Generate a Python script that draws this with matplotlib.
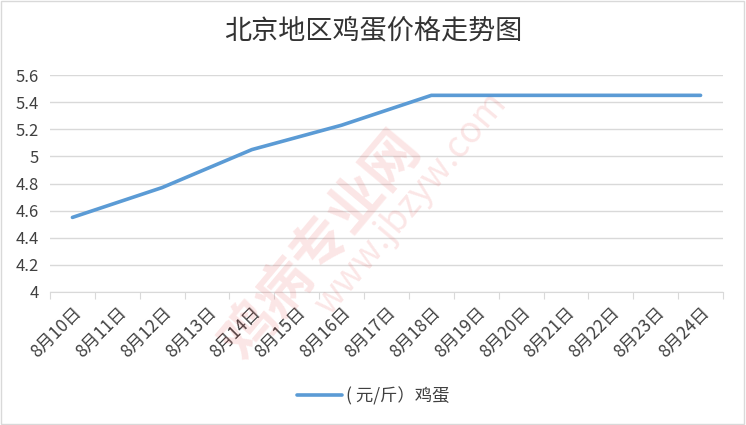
import matplotlib
matplotlib.use("Agg")
import matplotlib.pyplot as plt
from matplotlib.patches import Rectangle

plt.rcParams['font.family'] = ['Noto Sans CJK SC', 'DejaVu Sans']

# data
dates = ["8月10日", "8月11日", "8月12日", "8月13日", "8月14日", "8月15日", "8月16日",
         "8月17日", "8月18日", "8月19日", "8月20日", "8月21日", "8月22日", "8月23日", "8月24日"]
prices = [4.55, 4.66, 4.77, 4.91, 5.05, 5.14, 5.23, 5.34, 5.45,
          5.45, 5.45, 5.45, 5.45, 5.45, 5.45]
yticks = [4, 4.2, 4.4, 4.6, 4.8, 5, 5.2, 5.4, 5.6]
ylabels = ["4", "4.2", "4.4", "4.6", "4.8", "5", "5.2", "5.4", "5.6"]

fig = plt.figure(figsize=(7.46, 4.25), dpi=100)
ax = fig.add_axes([50 / 746, 1 - 292 / 425, 673 / 746, 217 / 425])

x = list(range(len(dates)))
ax.plot(x, prices, color="#5b9bd5", linewidth=2.6, solid_capstyle="round",
        label="( 元/斤）鸡蛋", zorder=3)

ax.set_xlim(-0.5, len(dates) - 0.5)
ax.set_ylim(4, 5.6)
ax.set_yticks(yticks)
ax.set_yticklabels(ylabels)
ax.yaxis.grid(True, color="#d9d9d9", linewidth=1)
ax.set_axisbelow(True)

# category axis: ticks at band boundaries
ax.set_xticks([i - 0.5 for i in range(len(dates) + 1)], minor=False)
ax.set_xticklabels([])
ax.set_xticks(x, minor=True)
ax.set_xticklabels(dates, minor=True, rotation=45, ha="right", va="top",
                   rotation_mode="anchor", fontsize=12.5, color="#404040")
ax.tick_params(axis="x", which="major", length=5, color="#d9d9d9", direction="out")
ax.tick_params(axis="x", which="minor", length=0, pad=8)
ax.tick_params(axis="y", length=0, labelsize=12, labelcolor="#404040", pad=8)

for s in ["top", "right", "left"]:
    ax.spines[s].set_visible(False)
ax.spines["bottom"].set_color("#d9d9d9")

fig.text(0.5, 1 - 31 / 425, "北京地区鸡蛋价格走势图", ha="center", va="center",
         fontsize=19.5, color="#333333")

fig.legend(loc="center", bbox_to_anchor=(0.5, 1 - 396 / 425), frameon=False,
           fontsize=12.5, handlelength=2.6, handletextpad=0.2, labelcolor="#404040")

# faint watermark
fig.text(0.43, 0.42, "鸡病专业网", rotation=50, fontsize=40, color="#e53030",
         alpha=0.12, ha="center", va="center", fontweight="bold")
fig.text(0.55, 0.52, "www.jbzyw.com", rotation=50, fontsize=26, color="#e53030",
         alpha=0.12, ha="center", va="center")

# outer border
fig.patches.append(Rectangle((0.002, 0.003), 0.995, 0.994, transform=fig.transFigure,
                             fill=False, edgecolor="#d9d9d9", linewidth=1))

fig.savefig("out.png", dpi=100)
